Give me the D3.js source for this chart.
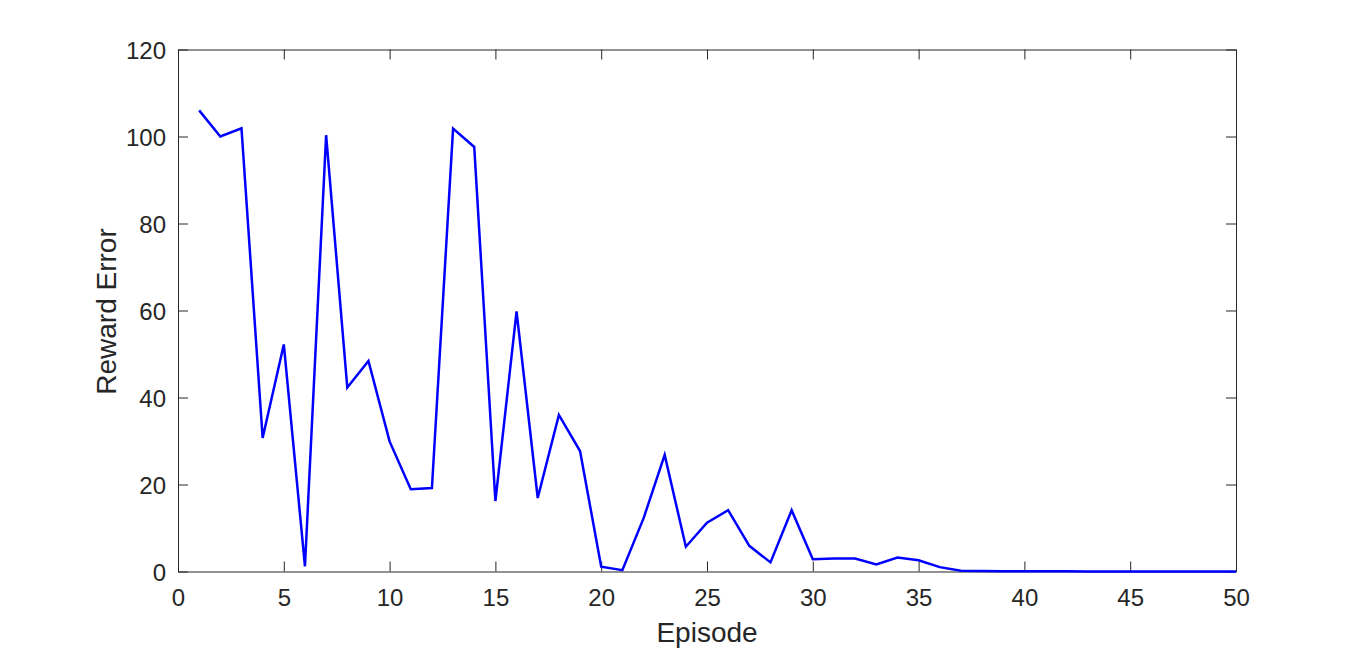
<!DOCTYPE html>
<html>
<head>
<meta charset="utf-8">
<script src="https://cdn.jsdelivr.net/npm/d3@7"></script>
<style>
  html, body { margin: 0; padding: 0; background: #fff; }
  svg { display: block; }
  text { font-family: "Liberation Sans", Arial, Helvetica, sans-serif; fill: #262626; }
</style>
</head>
<body>
<svg id="chart" width="1366" height="651"></svg>
<script>
const episodes = d3.range(1, 51);
const rewardError = [
  106.0, 100.0, 101.9, 30.7, 52.2, 1.2, 100.3, 42.3, 48.4, 29.9,
  18.9, 19.2, 101.8, 97.6, 16.2, 59.8, 16.9, 36.0, 27.7, 1.1,
  0.3, 12.2, 26.8, 5.7, 11.2, 14.1, 5.9, 2.1, 14.1, 2.8,
  3.0, 3.0, 1.6, 3.2, 2.6, 1.0, 0.2, 0.1, 0.08, 0.05,
  0.04, 0.03, 0.02, 0.02, 0.01, 0.01, 0.01, 0.0, 0.0, 0.0
];
const xTicks = [0, 5, 10, 15, 20, 25, 30, 35, 40, 45, 50];
const yTicks = [0, 20, 40, 60, 80, 100, 120];
const xLabel = "Episode";
const yLabel = "Reward Error";

(function () {
const svg = d3.select("#chart");
const pLeft = 178, pRight = 1236, pTop = 49.5, pBottom = 571.5;
const x = d3.scaleLinear().domain([0, 50]).range([pLeft, pRight]);
const y = d3.scaleLinear().domain([0, 120]).range([pBottom, pTop]);
const axisColor = "#262626";
const fontSize = 24;

function styleAxis(g, hideText) {
  g.selectAll("path").attr("stroke", axisColor).attr("stroke-width", 1);
  g.selectAll("line").attr("stroke", axisColor).attr("stroke-width", 1);
  g.selectAll("text").attr("fill", axisColor).style("font-size", fontSize + "px")
    .style("font-family", '"Liberation Sans", Arial, sans-serif');
  if (hideText) g.selectAll("text").remove();
}

svg.append("g").attr("transform", `translate(0,${pBottom})`)
  .call(d3.axisBottom(x).tickValues(xTicks).tickFormat(d3.format("d"))
    .tickSizeInner(-10).tickSizeOuter(0).tickPadding(17))
  .call(g => styleAxis(g, false));
svg.append("g").attr("transform", `translate(0,${pTop})`)
  .call(d3.axisTop(x).tickValues(xTicks).tickSizeInner(-10).tickSizeOuter(0))
  .call(g => styleAxis(g, true));
svg.append("g").attr("transform", `translate(${pLeft},0)`)
  .call(d3.axisLeft(y).tickValues(yTicks).tickFormat(d3.format("d"))
    .tickSizeInner(-10).tickSizeOuter(0).tickPadding(12))
  .call(g => styleAxis(g, false))
  .call(g => g.selectAll("text").attr("dy", "0.38em"));
svg.append("g").attr("transform", `translate(${pRight},0)`)
  .call(d3.axisRight(y).tickValues(yTicks).tickSizeInner(-10).tickSizeOuter(0))
  .call(g => styleAxis(g, true));

const line = d3.line().x((d, i) => x(episodes[i])).y(d => y(d));
svg.append("path")
  .datum(rewardError)
  .attr("fill", "none")
  .attr("stroke", "#0000ff")
  .attr("stroke-width", 2.5)
  .attr("stroke-linejoin", "miter")
  .attr("d", line);

svg.append("text")
  .attr("x", (pLeft + pRight) / 2)
  .attr("y", 642)
  .attr("text-anchor", "middle")
  .style("font-size", "28px")
  .text(xLabel);

svg.append("text")
  .attr("transform", `translate(116,${(pTop + pBottom) / 2 + 1}) rotate(-90)`)
  .attr("text-anchor", "middle")
  .style("font-size", "28px")
  .text(yLabel);
})();
</script>
</body>
</html>
